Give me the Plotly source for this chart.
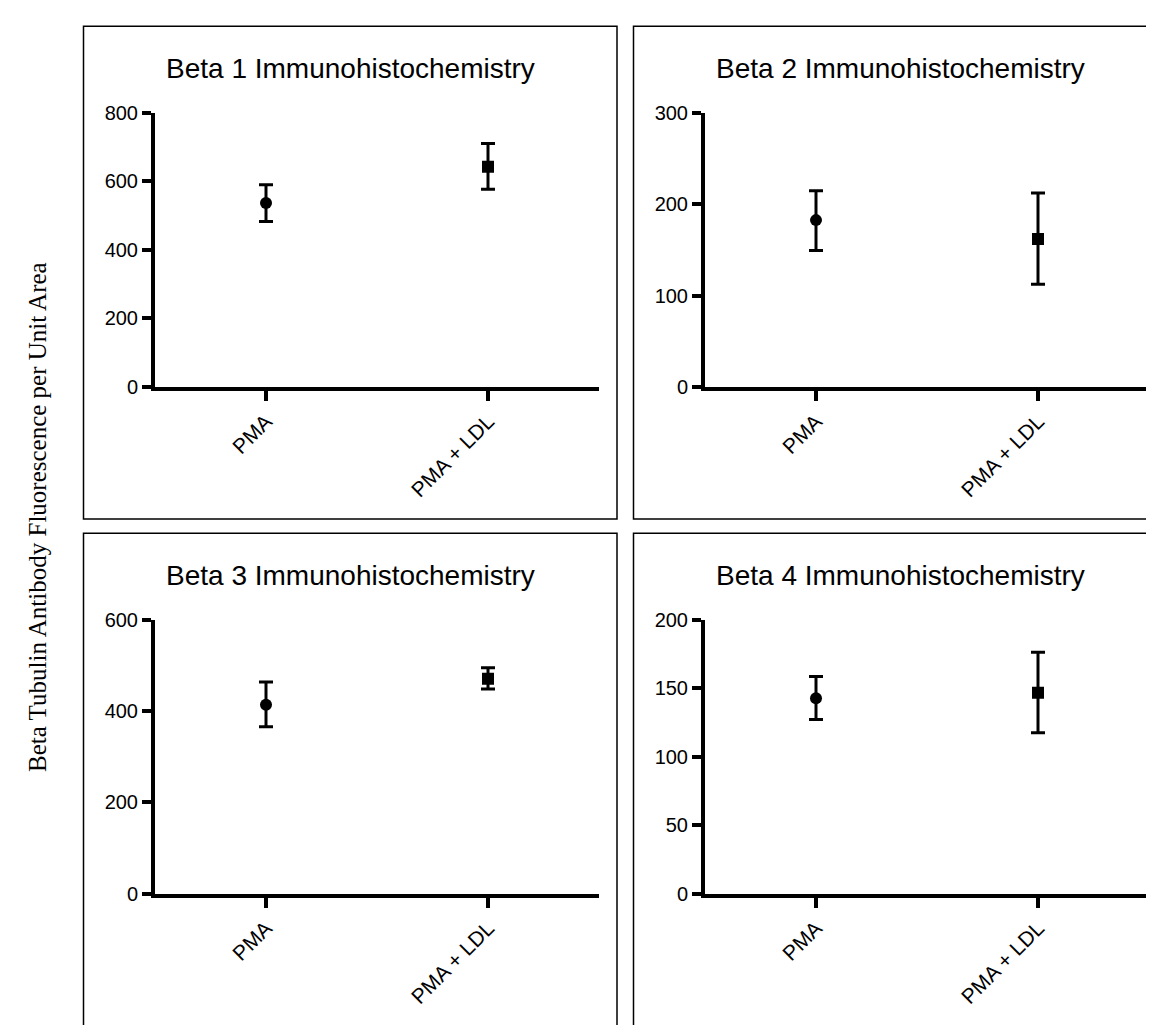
import plotly.graph_objects as go

W, H = 1154, 1025
OFF = 8  # default body margin of the html page
FW, FH = W - OFF, H - OFF

categories = ["PMA", "PMA + LDL"]
titles = ["Beta 1 Immunohistochemistry", "Beta 2 Immunohistochemistry",
          "Beta 3 Immunohistochemistry", "Beta 4 Immunohistochemistry"]
y_max = [800, 300, 600, 200]
y_step = [200, 100, 200, 50]

beta1_mean = [537, 643]
beta1_upper = [590, 711]
beta1_lower = [483, 577]

beta2_mean = [182.6, 161.8]
beta2_upper = [214.8, 212.2]
beta2_lower = [149.3, 112.4]

beta3_mean = [413.7, 470.8]
beta3_upper = [463.8, 495.0]
beta3_lower = [365.6, 448.0]

beta4_mean = [142.6, 146.7]
beta4_upper = [158.6, 176.2]
beta4_lower = [127.1, 117.4]

y_title = "Beta Tubulin Antibody Fluorescence per Unit Area"

means = [beta1_mean, beta2_mean, beta3_mean, beta4_mean]
uppers = [beta1_upper, beta2_upper, beta3_upper, beta4_upper]
lowers = [beta1_lower, beta2_lower, beta3_lower, beta4_lower]

# layout geometry in window pixels
DX, DY = 550, 518
ax_left, ax_right = 155, 599
ax_top, ax_bot = 104, 384
box_l, box_r, box_t, box_b = 83.5, 617, 15.5, 519
title_y = 59

def px(x):
    return (x - OFF) / FW

def py(y):
    return 1 - (y - OFF) / FH

fig = go.Figure()
shapes = []
annotations = []
symbols = ["circle", "square"]
xs = list(range(len(categories)))
tick_font = dict(family="Arial, Liberation Sans", size=20, color="black")

for i in range(4):
    col, row = i % 2, i // 2
    ox, oy = col * DX, row * DY
    xa = "x" if i == 0 else f"x{i+1}"
    ya = "y" if i == 0 else f"y{i+1}"
    m, up, lo = means[i], uppers[i], lowers[i]
    fig.add_trace(go.Scatter(
        x=xs, y=m, mode="markers", xaxis=xa, yaxis=ya,
        marker=dict(symbol=symbols, size=12, color="black"),
        error_y=dict(type="data", symmetric=False,
                     array=[u - v for u, v in zip(up, m)],
                     arrayminus=[v - l for v, l in zip(m, lo)],
                     color="black", thickness=3, width=7),
        showlegend=False, hoverinfo="skip"))
    xkey = "xaxis" if i == 0 else f"xaxis{i+1}"
    ykey = "yaxis" if i == 0 else f"yaxis{i+1}"
    fig.update_layout(**{
        xkey: dict(domain=[px(ax_left + ox), px(ax_right + ox)],
                   anchor=ya, range=[-0.5, 1.5],
                   tickvals=xs, ticktext=categories, tickangle=-45,
                   showline=True, linewidth=4, linecolor="black",
                   ticks="outside", ticklen=10, tickwidth=4, tickcolor="black",
                   showgrid=False, zeroline=False,
                   tickfont=dict(family="Arial, Liberation Sans", size=21, color="black")),
        ykey: dict(domain=[py(ax_bot + oy), py(ax_top + oy)],
                   anchor=xa, range=[0, y_max[i]],
                   tickvals=list(range(0, y_max[i] + 1, y_step[i])),
                   showline=True, linewidth=4, linecolor="black",
                   ticks="outside", ticklen=9, tickwidth=4, tickcolor="black",
                   showgrid=False, zeroline=False,
                   tickfont=tick_font),
    })
    shapes.append(dict(type="rect", xref="paper", yref="paper",
                       x0=px(box_l + ox), x1=px(box_r + ox),
                       y0=py(box_b + oy), y1=py(box_t + oy),
                       line=dict(color="black", width=1.5), layer="below"))
    annotations.append(dict(text=titles[i], xref="paper", yref="paper",
                            x=px((box_l + box_r) / 2 + ox), y=py(title_y + oy),
                            xanchor="center", yanchor="middle", showarrow=False,
                            font=dict(family="Arial, Liberation Sans", size=28, color="black")))

annotations.append(dict(text=y_title, xref="paper", yref="paper",
                        x=px(38), y=py(517), textangle=-90,
                        xanchor="center", yanchor="middle", showarrow=False,
                        font=dict(family="Liberation Serif, Times New Roman", size=25, color="black")))

fig.update_layout(width=FW, height=FH, margin=dict(l=0, r=0, t=0, b=0),
                  paper_bgcolor="white", plot_bgcolor="white",
                  shapes=shapes, annotations=annotations)

fig.write_html("out.html")
